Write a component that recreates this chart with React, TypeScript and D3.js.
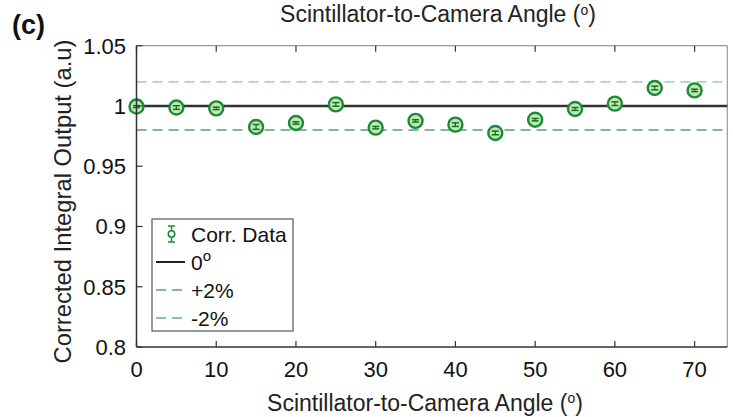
import React from "react";
import * as d3 from "d3";

const angles = [0, 5, 10, 15, 20, 25, 30, 35, 40, 45, 50, 55, 60, 65, 70];
const corrValues = [0.9995, 0.9987, 0.998, 0.9826, 0.9859, 1.0013, 0.982, 0.9876, 0.9845, 0.9776, 0.9886, 0.9975, 1.0019, 1.0149, 1.0129];
const corrErrors = [0.0008, 0.0015, 0.001, 0.002, 0.001, 0.0015, 0.001, 0.001, 0.0015, 0.0015, 0.001, 0.0012, 0.0015, 0.0015, 0.001];
const xTicks = [0, 10, 20, 30, 40, 50, 60, 70];
const yTicks = [0.8, 0.85, 0.9, 0.95, 1, 1.05];
const refLevels = [1.0, 1.02, 0.98];
const legendLabels = ["Corr. Data", "0", "+2%", "-2%"];
const xTitle = "Scintillator-to-Camera Angle (";
const yTitle = "Corrected Integral Output (a.u)";

const W = 733, H = 417;
const FONT = "'Liberation Sans', Arial, Helvetica, sans-serif";

export default function App() {
  const x = d3.scaleLinear().domain([0, 74.1]).range([136.5, 727.3]);
  const y = d3.scaleLinear().domain([0.8, 1.05]).range([347, 45.7]);
  const [x0, x1] = x.range();
  const [yb, yt] = y.range();
  const markerStroke = "#1c8a3a";
  const markerFill = "#bfeaac";
  const refColors = ["#333333", "#a6d6b6", "#5e9e7a"];
  const legendColors = ["#1f8a3b", "#222222", "#5e9e7a", "#5fb57e"];

  const lx = 152, ly = 219, lw = 141, lh = 112;
  const rowY = (i: number) => 234 + i * 28;

  return (
    <svg width={W} height={H} style={{ position: "absolute", left: 0, top: 0, background: "#fff" }} fontFamily={FONT}>
      <rect x={0} y={0} width={W} height={H} fill="#fff" />
      {/* panel label */}
      <text x={12} y={34} fontSize={27} fontWeight="bold" fill="#111">(c)</text>
      {/* top title */}
      <text x={438} y={22} fontSize={23} textAnchor="middle" fill="#222">
        {xTitle}
        <tspan dy={-7} fontSize={14}>o</tspan>
        <tspan dy={7}>)</tspan>
      </text>

      {/* frame top/right */}
      <line x1={x0} x2={x1} y1={yt} y2={yt} stroke="#999" strokeWidth={1.2} />
      <line x1={x1} x2={x1} y1={yt} y2={yb} stroke="#999" strokeWidth={1.2} />
      {xTicks.map((t) => (
        <line key={"tt" + t} x1={x(t)} x2={x(t)} y1={yt} y2={yt + 6} stroke="#333" strokeWidth={1.2} />
      ))}

      {/* reference lines */}
      {refLevels.map((v, i) => (
        <line key={"ref" + i} x1={x0} x2={x1} y1={y(v)} y2={y(v)} stroke={refColors[i]}
          strokeWidth={i === 0 ? 2.6 : 1.6} strokeDasharray={i === 0 ? undefined : "10,6"} />
      ))}

      {/* data */}
      {angles.map((a, i) => {
        const cx = x(a), cy = y(corrValues[i]);
        const e1 = y(corrValues[i] + corrErrors[i]);
        const e2 = y(corrValues[i] - corrErrors[i]);
        return (
          <g key={"pt" + i}>
            <circle cx={cx} cy={cy} r={7} fill={markerFill} stroke={markerStroke} strokeWidth={2.4} />
            <line x1={cx} x2={cx} y1={e1} y2={e2} stroke="#1a6a30" strokeWidth={1.2} />
            <line x1={cx - 3.5} x2={cx + 3.5} y1={e1} y2={e1} stroke="#1a6a30" strokeWidth={1.5} />
            <line x1={cx - 3.5} x2={cx + 3.5} y1={e2} y2={e2} stroke="#1a6a30" strokeWidth={1.5} />
          </g>
        );
      })}

      {/* axes left/bottom */}
      <line x1={x0} x2={x0} y1={yt} y2={yb} stroke="#333" strokeWidth={1.5} />
      <line x1={x0} x2={x1} y1={yb} y2={yb} stroke="#333" strokeWidth={1.5} />
      {xTicks.map((t) => (
        <g key={"xt" + t}>
          <line x1={x(t)} x2={x(t)} y1={yb} y2={yb - 6} stroke="#333" strokeWidth={1.2} />
          <text x={x(t)} y={377} fontSize={22} textAnchor="middle" fill="#111">{t}</text>
        </g>
      ))}
      {yTicks.map((t) => (
        <g key={"yt" + t}>
          <line x1={x0} x2={x0 + 6} y1={y(t)} y2={y(t)} stroke="#333" strokeWidth={1.2} />
          <text x={126} y={y(t) + 8} fontSize={22} textAnchor="end" fill="#111">{d3.format("")(t)}</text>
        </g>
      ))}

      {/* axis titles */}
      <text x={425} y={411} fontSize={23} textAnchor="middle" fill="#222">
        {xTitle}
        <tspan dy={-8} fontSize={14}>o</tspan>
        <tspan dy={8}>)</tspan>
      </text>
      <text transform={`translate(71,201.5) rotate(-90)`} fontSize={23.8} textAnchor="middle" fill="#222">{yTitle}</text>

      {/* legend */}
      <rect x={lx} y={ly} width={lw} height={lh} fill="#fff" stroke="#555" strokeWidth={1.2} />
      <g>
        <line x1={171.5} x2={171.5} y1={rowY(0) - 8} y2={rowY(0) + 8} stroke={legendColors[0]} strokeWidth={1.5} />
        <line x1={168} x2={175} y1={rowY(0) - 8} y2={rowY(0) - 8} stroke={legendColors[0]} strokeWidth={1.5} />
        <line x1={168} x2={175} y1={rowY(0) + 8} y2={rowY(0) + 8} stroke={legendColors[0]} strokeWidth={1.5} />
        <circle cx={171.5} cy={rowY(0)} r={3.2} fill="#fff" stroke={legendColors[0]} strokeWidth={1.6} />
      </g>
      <line x1={156} x2={185} y1={rowY(1)} y2={rowY(1)} stroke={legendColors[1]} strokeWidth={2} />
      <line x1={156} x2={185} y1={rowY(2)} y2={rowY(2)} stroke={legendColors[2]} strokeWidth={1.6} strokeDasharray="10,6" />
      <line x1={156} x2={185} y1={rowY(3)} y2={rowY(3)} stroke={legendColors[3]} strokeWidth={1.6} strokeDasharray="10,6" />
      {legendLabels.map((l, i) => (
        <text key={"lg" + i} x={191} y={rowY(i) + 7.5} fontSize={21} fill="#111">
          {l}
          {i === 1 ? <tspan dy={-9} fontSize={15}>o</tspan> : null}
        </text>
      ))}
    </svg>
  );
}
